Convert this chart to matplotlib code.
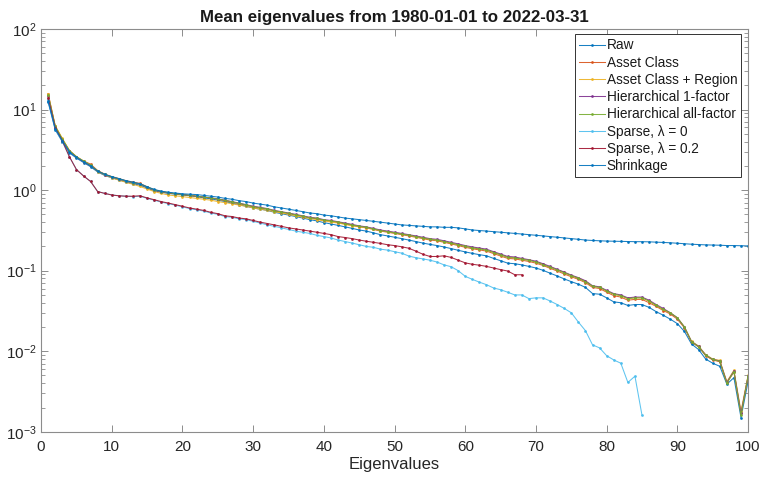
import numpy as np
import matplotlib
matplotlib.use("Agg")
import matplotlib.pyplot as plt
from matplotlib.ticker import LogLocator, MultipleLocator, NullFormatter

plt.rcParams['font.family'] = ['Liberation Sans', 'DejaVu Sans']
plt.rcParams['mathtext.fontset'] = 'custom'
plt.rcParams['mathtext.rm'] = 'Liberation Sans'
plt.rcParams['mathtext.it'] = 'Liberation Sans:italic'

# mean eigenvalues per estimator
raw = [12.3, 5.6, 4.0, 2.9, 2.5, 2.2, 1.95, 1.68, 1.52, 1.42,
       1.34, 1.26, 1.20, 1.15, 1.06, 0.98, 0.94, 0.91, 0.89, 0.87,
       0.85, 0.83, 0.80, 0.78, 0.75, 0.72, 0.69, 0.66, 0.63, 0.60,
       0.58, 0.56, 0.53, 0.51, 0.49, 0.47, 0.45, 0.43, 0.415, 0.395,
       0.38, 0.365, 0.35, 0.335, 0.32, 0.31, 0.295, 0.28, 0.27, 0.26,
       0.25, 0.24, 0.23, 0.22, 0.212, 0.205, 0.197, 0.188, 0.179, 0.171,
       0.164, 0.158, 0.153, 0.142, 0.133, 0.124, 0.122, 0.118, 0.113, 0.108,
       0.101, 0.093, 0.086, 0.079, 0.073, 0.068, 0.062, 0.052, 0.051, 0.046,
       0.041, 0.040, 0.037, 0.038, 0.038, 0.035, 0.031, 0.028, 0.025, 0.022,
       0.0176, 0.0123, 0.0105, 0.0080, 0.0071, 0.0065, 0.0039, 0.0047, 0.0015, 0.0042]

asset_class = [15.8, 6.2, 4.3, 3.1, 2.6, 2.3, 2.1, 1.75, 1.58, 1.47,
               1.39, 1.31, 1.26, 1.21, 1.10, 1.01, 0.96, 0.93, 0.90, 0.88,
               0.86, 0.84, 0.82, 0.80, 0.77, 0.74, 0.71, 0.68, 0.65, 0.62,
               0.60, 0.58, 0.55, 0.53, 0.51, 0.49, 0.47, 0.45, 0.44, 0.42,
               0.41, 0.395, 0.38, 0.365, 0.35, 0.34, 0.325, 0.31, 0.30, 0.29,
               0.28, 0.27, 0.26, 0.25, 0.24, 0.235, 0.225, 0.215, 0.205, 0.195,
               0.187, 0.181, 0.175, 0.163, 0.152, 0.142, 0.140, 0.135, 0.130, 0.124,
               0.116, 0.107, 0.099, 0.091, 0.084, 0.078, 0.071, 0.062, 0.060, 0.054,
               0.049, 0.047, 0.043, 0.044, 0.044, 0.040, 0.036, 0.032, 0.029, 0.025,
               0.0195, 0.0130, 0.0113, 0.0088, 0.0078, 0.0074, 0.0041, 0.0055, 0.0017, 0.0048]

asset_region = [15.5, 6.3, 4.4, 3.1, 2.6, 2.25, 2.0, 1.70, 1.54, 1.42,
                1.33, 1.25, 1.18, 1.11, 1.03, 0.96, 0.91, 0.87, 0.85, 0.83,
                0.81, 0.79, 0.77, 0.75, 0.72, 0.70, 0.68, 0.65, 0.63, 0.60,
                0.58, 0.56, 0.54, 0.52, 0.50, 0.48, 0.46, 0.445, 0.43, 0.415,
                0.40, 0.39, 0.375, 0.36, 0.35, 0.34, 0.33, 0.315, 0.305, 0.295,
                0.285, 0.275, 0.265, 0.255, 0.245, 0.24, 0.23, 0.22, 0.21, 0.20,
                0.193, 0.187, 0.181, 0.169, 0.158, 0.148, 0.145, 0.140, 0.135, 0.129,
                0.120, 0.111, 0.103, 0.095, 0.087, 0.081, 0.074, 0.064, 0.062, 0.056,
                0.051, 0.049, 0.045, 0.046, 0.046, 0.042, 0.037, 0.033, 0.030, 0.026,
                0.0200, 0.0133, 0.0116, 0.0091, 0.0080, 0.0077, 0.0042, 0.0058, 0.0018, 0.0050]

hier_1f = [14.8, 6.1, 4.2, 3.05, 2.55, 2.25, 2.0, 1.72, 1.56, 1.45,
           1.37, 1.29, 1.23, 1.18, 1.08, 1.00, 0.95, 0.92, 0.90, 0.88,
           0.86, 0.84, 0.82, 0.80, 0.78, 0.75, 0.72, 0.69, 0.66, 0.63,
           0.61, 0.59, 0.56, 0.54, 0.52, 0.50, 0.48, 0.46, 0.45, 0.43,
           0.42, 0.405, 0.39, 0.375, 0.36, 0.35, 0.335, 0.32, 0.31, 0.30,
           0.29, 0.28, 0.27, 0.26, 0.25, 0.245, 0.235, 0.225, 0.215, 0.205,
           0.197, 0.191, 0.185, 0.172, 0.161, 0.150, 0.148, 0.142, 0.137, 0.131,
           0.122, 0.113, 0.104, 0.096, 0.088, 0.082, 0.075, 0.065, 0.063, 0.057,
           0.052, 0.050, 0.046, 0.047, 0.047, 0.043, 0.038, 0.034, 0.030, 0.026,
           0.0200, 0.0132, 0.0115, 0.0090, 0.0079, 0.0076, 0.0041, 0.0057, 0.0017, 0.0049]

hier_all = [15.2, 6.2, 4.3, 3.1, 2.6, 2.3, 2.05, 1.73, 1.57, 1.46,
            1.38, 1.30, 1.24, 1.19, 1.09, 1.01, 0.96, 0.93, 0.90, 0.88,
            0.86, 0.84, 0.82, 0.80, 0.775, 0.745, 0.715, 0.685, 0.655, 0.625,
            0.605, 0.585, 0.555, 0.535, 0.515, 0.495, 0.475, 0.455, 0.445, 0.425,
            0.415, 0.40, 0.385, 0.37, 0.355, 0.345, 0.33, 0.315, 0.305, 0.295,
            0.285, 0.275, 0.265, 0.255, 0.245, 0.24, 0.23, 0.22, 0.21, 0.20,
            0.192, 0.186, 0.180, 0.168, 0.157, 0.146, 0.144, 0.139, 0.134, 0.128,
            0.119, 0.110, 0.102, 0.094, 0.087, 0.080, 0.073, 0.064, 0.062, 0.056,
            0.051, 0.049, 0.045, 0.046, 0.046, 0.042, 0.037, 0.033, 0.030, 0.026,
            0.0200, 0.0131, 0.0114, 0.0089, 0.0079, 0.0075, 0.0040, 0.0056, 0.0016, 0.0049]

sparse_0 = [13.5, 5.7, 4.0, 2.6, 1.8, 1.5, 1.28, 0.96, 0.91, 0.87,
            0.85, 0.84, 0.83, 0.84, 0.79, 0.75, 0.71, 0.68, 0.65, 0.62,
            0.59, 0.57, 0.55, 0.52, 0.50, 0.47, 0.46, 0.44, 0.43, 0.41,
            0.39, 0.37, 0.355, 0.34, 0.325, 0.31, 0.30, 0.29, 0.275, 0.265,
            0.255, 0.24, 0.23, 0.22, 0.21, 0.20, 0.195, 0.185, 0.18, 0.172,
            0.165, 0.152, 0.145, 0.14, 0.135, 0.128, 0.118, 0.112, 0.10, 0.085,
            0.078, 0.072, 0.067, 0.061, 0.058, 0.054, 0.050, 0.050, 0.045, 0.046,
            0.046, 0.042, 0.038, 0.034, 0.030, 0.023, 0.018, 0.012, 0.011, 0.0088,
            0.0078, 0.0071, 0.0041, 0.0049, 0.0016]

sparse_02 = [14.0, 5.9, 4.1, 2.6, 1.8, 1.5, 1.28, 0.96, 0.91, 0.87,
             0.85, 0.84, 0.84, 0.85, 0.80, 0.76, 0.72, 0.69, 0.66, 0.63,
             0.60, 0.58, 0.56, 0.53, 0.51, 0.48, 0.47, 0.45, 0.44, 0.42,
             0.40, 0.385, 0.37, 0.355, 0.34, 0.33, 0.32, 0.31, 0.30, 0.29,
             0.28, 0.265, 0.258, 0.25, 0.24, 0.232, 0.225, 0.218, 0.21, 0.205,
             0.198, 0.19, 0.175, 0.16, 0.15, 0.15, 0.153, 0.146, 0.135, 0.125,
             0.12, 0.117, 0.113, 0.108, 0.103, 0.099, 0.089, 0.089]

shrinkage = [12.8, 5.8, 4.1, 3.0, 2.55, 2.25, 2.0, 1.72, 1.57, 1.47,
             1.39, 1.31, 1.25, 1.20, 1.10, 1.02, 0.97, 0.94, 0.92, 0.90,
             0.89, 0.88, 0.86, 0.84, 0.82, 0.79, 0.77, 0.74, 0.72, 0.69,
             0.67, 0.65, 0.62, 0.60, 0.58, 0.56, 0.54, 0.52, 0.51, 0.49,
             0.48, 0.465, 0.45, 0.44, 0.43, 0.42, 0.41, 0.40, 0.39, 0.38,
             0.37, 0.365, 0.36, 0.355, 0.35, 0.35, 0.345, 0.345, 0.34, 0.33,
             0.32, 0.315, 0.31, 0.305, 0.30, 0.295, 0.29, 0.285, 0.28, 0.275,
             0.27, 0.265, 0.26, 0.255, 0.25, 0.245, 0.24, 0.237, 0.235, 0.233,
             0.232, 0.231, 0.230, 0.229, 0.229, 0.228, 0.226, 0.224, 0.222, 0.219,
             0.216, 0.213, 0.211, 0.209, 0.208, 0.207, 0.205, 0.205, 0.204, 0.203]

labels = ["Raw", "Asset Class", "Asset Class + Region", "Hierarchical 1-factor",
          "Hierarchical all-factor", "Sparse, \u03bb = 0", "Sparse, \u03bb = 0.2", "Shrinkage"]
colors = ["#0072BD", "#D95319", "#EDB120", "#7E2F8E",
          "#77AC30", "#4DBEEE", "#A2142F", "#0072BD"]
series = [raw, asset_class, asset_region, hier_1f, hier_all, sparse_0, sparse_02, shrinkage]

fig = plt.figure(figsize=(7.61, 4.83), dpi=100)
ax = fig.add_axes([0.054, 0.106, 0.929, 0.834])

for vals, lab, col in zip(series, labels, colors):
    x = np.arange(1, len(vals) + 1)
    ax.plot(x, vals, '.-', color=col, lw=0.75, ms=2, alpha=0.9, label=lab)

ax.set_yscale('log')
ax.set_xlim(0, 100)
ax.set_ylim(1e-3, 1e2)
ax.xaxis.set_major_locator(MultipleLocator(10))
ax.yaxis.set_major_locator(LogLocator(base=10, numticks=10))
ax.yaxis.set_minor_locator(LogLocator(base=10, subs=np.arange(2, 10), numticks=10))
ax.yaxis.set_minor_formatter(NullFormatter())

for s in ax.spines.values():
    s.set_color('#8c8c8c')
    s.set_linewidth(0.8)
ax.tick_params(which='both', direction='in', top=True, right=True,
               color='#8c8c8c', labelcolor='#262626', labelsize=11)
ax.tick_params(which='major', length=5, width=0.7)
ax.tick_params(which='minor', length=3, width=0.6)
ax.tick_params(axis='x', pad=6)

ax.set_title("Mean eigenvalues from 1980-01-01 to 2022-03-31",
             fontsize=12.2, fontweight='bold', color='#1a1a1a', pad=5)
ax.set_xlabel("Eigenvalues", fontsize=12, color='#262626', labelpad=2)

leg = ax.legend(loc='upper right', bbox_to_anchor=(0.9905, 0.987), fontsize=9.8,
                frameon=True, fancybox=False, framealpha=1, edgecolor='#333333',
                handlelength=1.9, handletextpad=0.1, labelspacing=0.24,
                borderpad=0.3, borderaxespad=0)
leg.get_frame().set_linewidth(0.7)
for t in leg.get_texts():
    t.set_color('#1a1a1a')

fig.savefig("out.png", dpi=100)
